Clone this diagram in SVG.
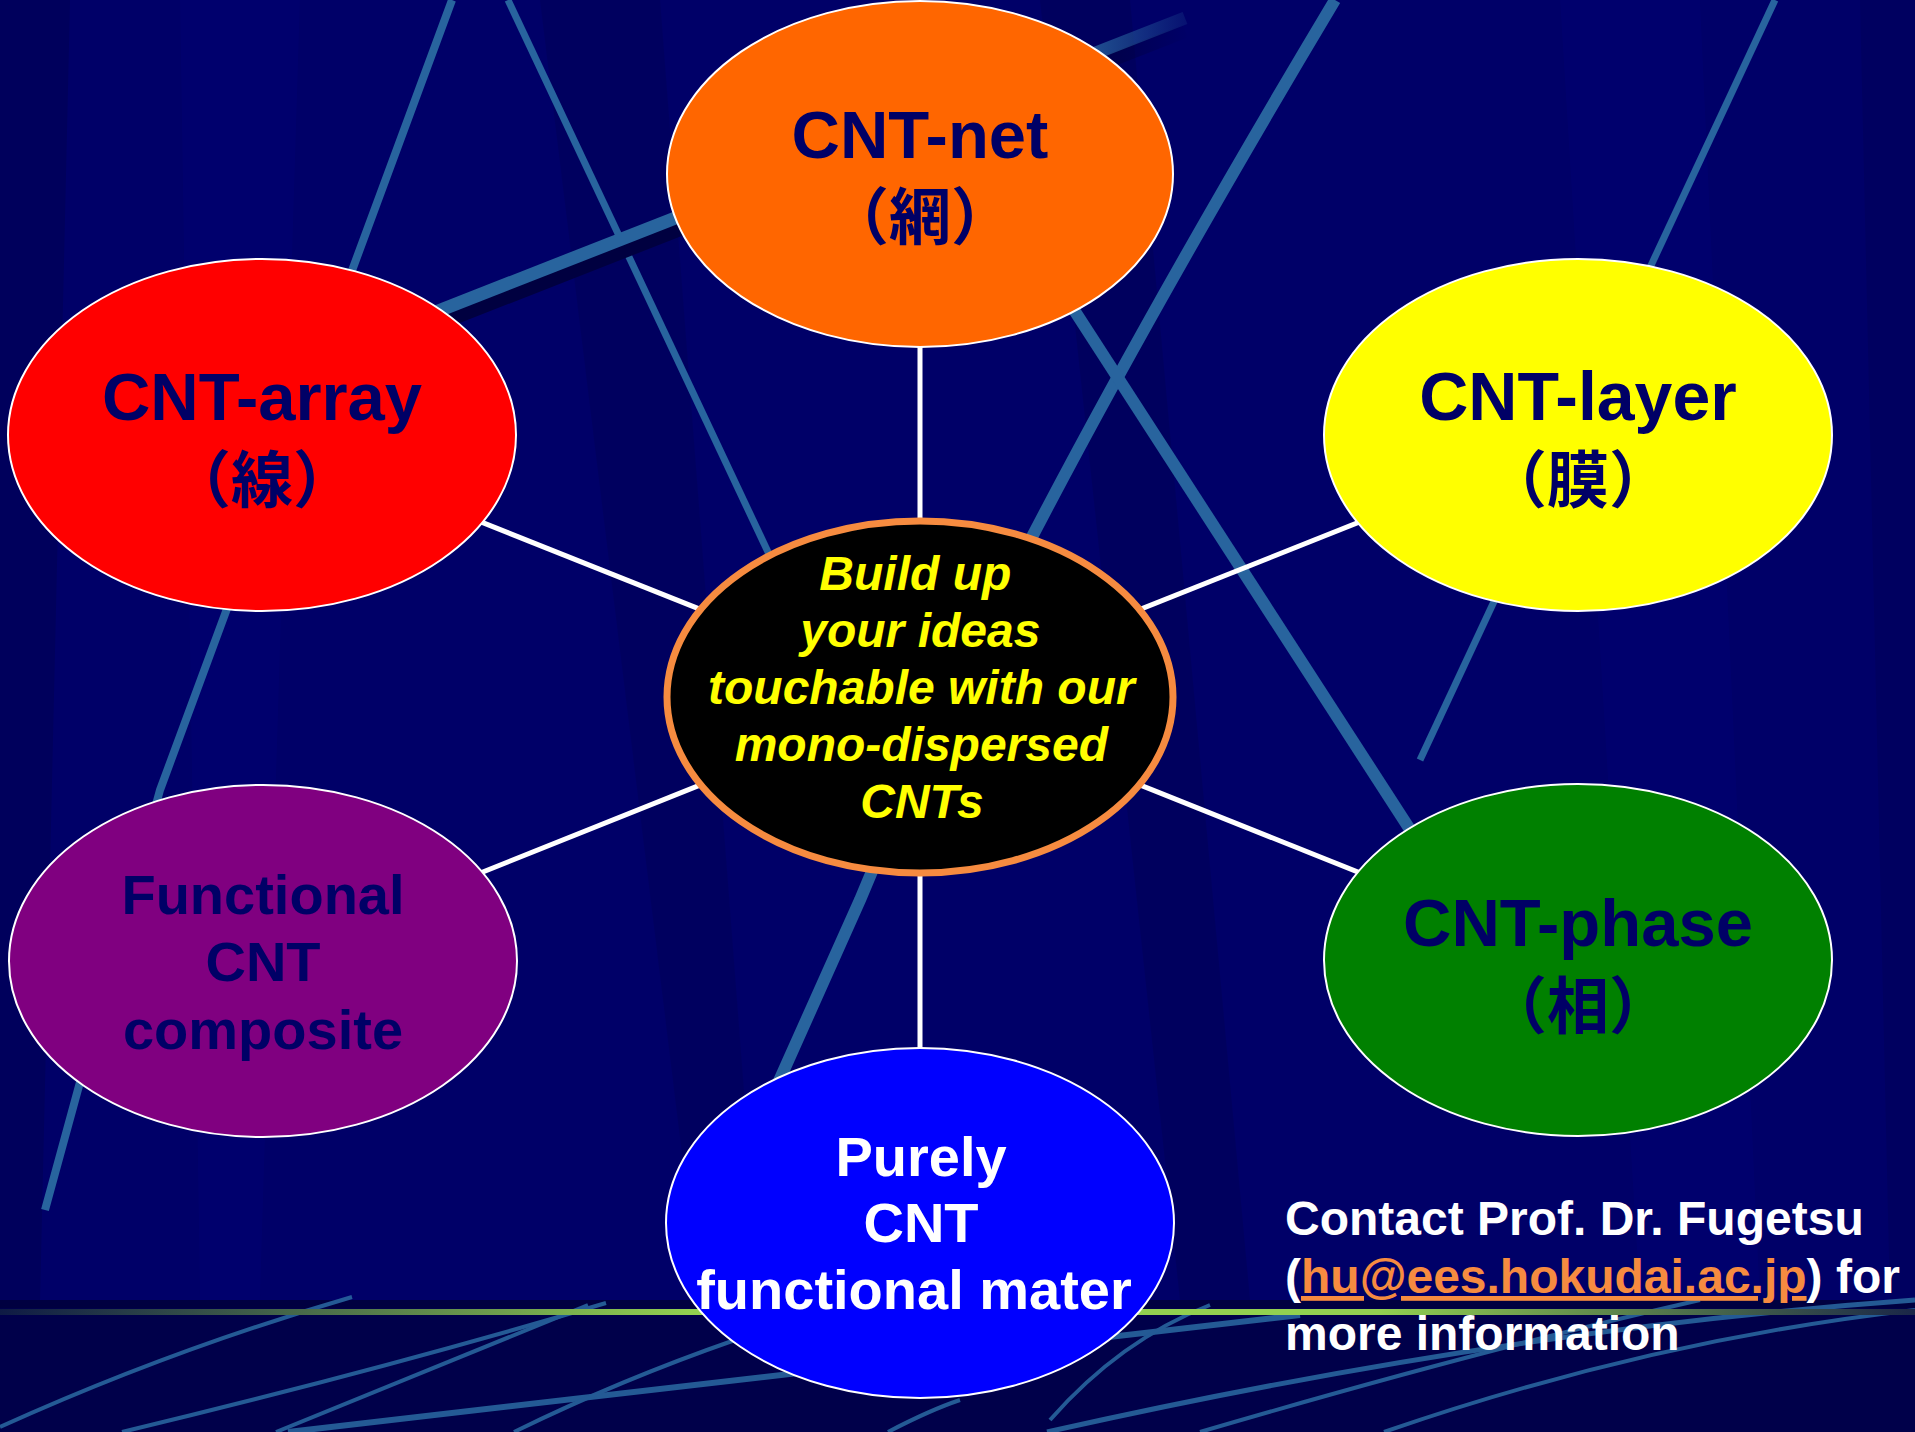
<svg xmlns="http://www.w3.org/2000/svg" width="1915" height="1432" viewBox="0 0 1915 1432">
<defs>
<style>
.bgline{fill:none;stroke:#28649e;stroke-linecap:butt}
.conn{stroke:#ffffff;stroke-width:5;fill:none}
.node{stroke:#ffffff;stroke-width:2}
.t{font-family:"Liberation Sans",Arial,sans-serif;font-weight:bold;text-anchor:middle}
.cjk{font-family:"Liberation Sans","Noto Sans CJK JP",sans-serif;font-weight:bold;text-anchor:middle}
.navy{fill:#000066}
</style>
<linearGradient id="green" x1="0" y1="0" x2="1915" y2="0" gradientUnits="userSpaceOnUse">
<stop offset="0" stop-color="#0e1a45"/>
<stop offset="0.36" stop-color="#92d050"/>
<stop offset="0.72" stop-color="#92d050"/>
<stop offset="1" stop-color="#1a2648"/>
</linearGradient>
<linearGradient id="fadeDown" x1="0" y1="0" x2="0" y2="1">
<stop offset="0" stop-color="#28649e" stop-opacity="0.2"/>
<stop offset="0.15" stop-color="#28649e" stop-opacity="1"/>
<stop offset="0.85" stop-color="#28649e" stop-opacity="1"/>
<stop offset="1" stop-color="#28649e" stop-opacity="0.2"/>
</linearGradient>
<linearGradient id="fadeD" x1="1060" y1="0" x2="1190" y2="0" gradientUnits="userSpaceOnUse">
<stop offset="0" stop-color="#28649e" stop-opacity="1"/>
<stop offset="1" stop-color="#28649e" stop-opacity="0.15"/>
</linearGradient>
<linearGradient id="fadeDs" x1="1060" y1="0" x2="1190" y2="0" gradientUnits="userSpaceOnUse">
<stop offset="0" stop-color="#000040" stop-opacity="1"/>
<stop offset="1" stop-color="#000040" stop-opacity="0"/>
</linearGradient>
</defs>

<g id="background">
<rect x="0" y="0" width="1915" height="1432" fill="#000068"/>
<polygon points="0,0 70,0 40,1300 0,1300" fill="#000050" opacity="0.5"/>
<polygon points="180,0 300,0 260,1300 200,1300" fill="#00007a" opacity="0.25"/>
<polygon points="540,0 660,0 760,1300 700,1300" fill="#000050" opacity="0.35"/>
<polygon points="1040,0 1130,0 1250,1300 1180,1300" fill="#00004e" opacity="0.35"/>
<polygon points="1560,0 1700,0 1760,1300 1640,1300" fill="#00007a" opacity="0.25"/>
<polygon points="1860,0 1915,0 1915,1300 1890,1300" fill="#000055" opacity="0.4"/>
<rect x="0" y="1300" width="1915" height="132" fill="#00004a"/>
</g>

<g id="decor-lines">
<path class="bgline" d="M452,0 L160,790 L45,1210" stroke="url(#fadeDown)" stroke-width="8"/>
<path class="bgline" d="M508,0 L800,620" stroke-width="7"/>
<path class="bgline" d="M1335,0 Q1000,560 860,900 L775,1090" stroke-width="12"/>
<path class="bgline" d="M990,180 L1420,845" stroke-width="12"/>
<path class="bgline" d="M1775,0 L1420,760" stroke="url(#fadeDown)" stroke-width="7"/>
<line x1="400" y1="339" x2="1185" y2="31" stroke="url(#fadeDs)" stroke-width="14"/>
<line x1="400" y1="326" x2="1185" y2="18" stroke="url(#fadeD)" stroke-width="13"/>
<rect x="0" y="1300" width="1915" height="8" fill="#000040"/>
<g class="bgline" stroke-width="4" opacity="0.9">
<path d="M0,1427 Q170,1350 352,1297"/>
<path d="M122,1432 Q380,1370 606,1303"/>
<path d="M276,1432 Q430,1370 588,1305"/>
<path d="M288,1432 Q700,1385 1300,1315" stroke-width="6"/>
<path d="M514,1432 Q620,1380 735,1340"/>
<path d="M888,1432 Q930,1410 960,1400"/>
<path d="M1047,1432 Q1500,1330 1915,1300" stroke-width="5"/>
<path d="M1384,1432 Q1650,1340 1915,1310"/>
<path d="M1050,1420 Q1120,1340 1210,1305"/>
<path d="M1200,1432 Q1480,1350 1700,1300"/>
</g>
<rect x="0" y="1309" width="1915" height="6" fill="url(#green)"/>
<rect x="1133" y="1303" width="8" height="8" fill="#000040"/>
</g>

<g id="connectors">
<line class="conn" x1="920" y1="697" x2="920" y2="173"/>
<line class="conn" x1="920" y1="697" x2="920" y2="1223"/>
<line class="conn" x1="920" y1="697" x2="263" y2="435"/>
<line class="conn" x1="920" y1="697" x2="1578" y2="435"/>
<line class="conn" x1="920" y1="697" x2="263" y2="960"/>
<line class="conn" x1="920" y1="697" x2="1578" y2="960"/>
</g>

<g id="node-cnt-net">
<ellipse class="node" cx="920" cy="174" rx="253" ry="173" fill="#ff6600"/>
<text class="t navy" x="920" y="158" font-size="67">CNT-net</text>
<text class="cjk navy" x="920" y="240" font-size="62">（網）</text>
</g>

<g id="node-cnt-array">
<ellipse class="node" cx="262" cy="435" rx="254" ry="176" fill="#ff0000"/>
<text class="t navy" x="262" y="420" font-size="67">CNT-array</text>
<text class="cjk navy" x="262" y="503" font-size="62">（線）</text>
</g>

<g id="node-cnt-layer">
<ellipse class="node" cx="1578" cy="435" rx="254" ry="176" fill="#ffff00"/>
<text class="t navy" x="1578" y="420" font-size="68">CNT-layer</text>
<text class="cjk navy" x="1578" y="503" font-size="62">（膜）</text>
</g>

<g id="node-functional">
<ellipse class="node" cx="263" cy="961" rx="254" ry="176" fill="#800080"/>
<text class="t navy" x="263" y="914" font-size="56">Functional</text>
<text class="t navy" x="263" y="981" font-size="56">CNT</text>
<text class="t navy" x="263" y="1049" font-size="56">composite</text>
</g>

<g id="node-cnt-phase">
<ellipse class="node" cx="1578" cy="960" rx="254" ry="176" fill="#008000"/>
<text class="t navy" x="1578" y="946" font-size="67">CNT-phase</text>
<text class="cjk navy" x="1578" y="1029" font-size="62">（相）</text>
</g>

<g id="node-purely">
<ellipse class="node" cx="920" cy="1223" rx="254" ry="175" fill="#0000ff"/>
<text class="t" fill="#ffffff" x="921" y="1176" font-size="56">Purely</text>
<text class="t" fill="#ffffff" x="921" y="1242" font-size="56">CNT</text>
<text class="t" fill="#ffffff" x="914" y="1309" font-size="56">functional mater</text>
</g>

<g id="node-center">
<ellipse cx="920" cy="697" rx="253" ry="176" fill="#000000" stroke="#f68b40" stroke-width="7"/>
<text class="t" fill="#ffff00" font-style="italic" font-size="48">
<tspan x="922" y="590">Build up</tspan>
<tspan x="927" y="647">your ideas</tspan>
<tspan x="928" y="704">touchable with our</tspan>
<tspan x="928" y="761">mono-dispersed</tspan>
<tspan x="922" y="818">CNTs</tspan>
</text>
</g>

<g id="contact">
<text font-family="'Liberation Sans',Arial,sans-serif" font-weight="bold" font-size="48" fill="#ffffff">
<tspan x="1285" y="1235">Contact Prof. Dr. Fugetsu</tspan>
<tspan x="1285" y="1293">(<tspan fill="#f68b40" text-decoration="underline">hu@ees.hokudai.ac.jp</tspan>) for</tspan>
<tspan x="1285" y="1350">more information</tspan>
</text>
</g>
</svg>
